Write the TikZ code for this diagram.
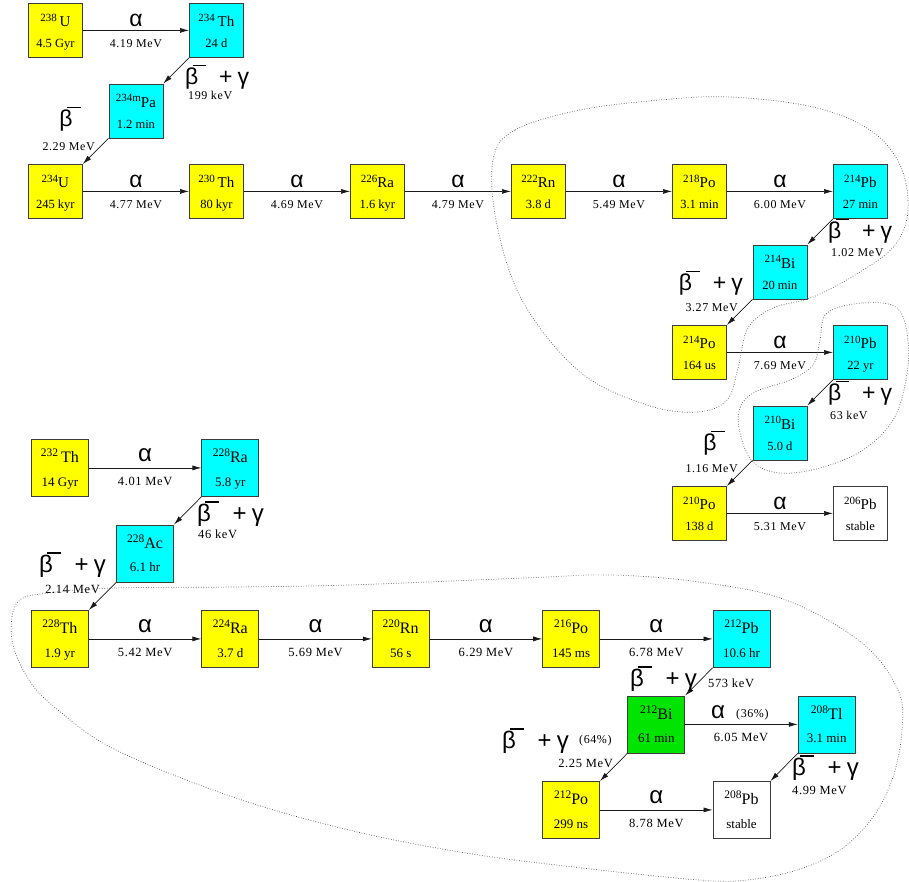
\documentclass[tikz,border=0pt]{standalone}
\usepackage{fontspec}
\setmainfont{Liberation Serif}
\newfontfamily\gk{Liberation Sans}
\usetikzlibrary{arrows.meta}
\definecolor{nyel}{RGB}{255,255,0}
\definecolor{ncyan}{RGB}{0,255,255}
\definecolor{ngreen}{RGB}{0,228,0}
\definecolor{nborder}{RGB}{60,60,60}
\definecolor{ncurve}{RGB}{80,80,80}
\newcommand{\nucU}[3]{{\fontsize{15}{21}\selectfont\raisebox{5.5pt}{\fontsize{11}{11}\selectfont #1}#2\rule{0pt}{17pt}}\\#3\rule[-3pt]{0pt}{3pt}}
\newcommand{\nucL}[3]{{\fontsize{16}{23.4}\selectfont\raisebox{6pt}{\fontsize{11.5}{11.5}\selectfont #1}#2\rule{0pt}{16pt}}\\#3\rule[-3pt]{0pt}{3pt}}
\newcommand{\bmin}{β\kern-0.25em\raisebox{0.8em}{\rule{0.6em}{0.07em}}}
\newcommand{\bgam}{\bmin\hspace{0.55em}+\hspace{0.22em}γ}
\tikzset{
 box/.style={draw=nborder, line width=0.8pt, inner sep=0pt, anchor=north west, align=center},
 ubox/.style={box, minimum width=54pt, minimum height=54pt, font=\fontsize{12.5}{21}\selectfont},
 lbox/.style={box, minimum width=57pt, minimum height=57pt, font=\fontsize{13}{23.4}\selectfont},
 arr/.style={-{Latex[length=9pt,width=5pt]}, line width=0.7pt, draw=black!90},
 en/.style={font=\fontsize{12}{12}\selectfont\addfontfeatures{LetterSpace=5}, inner sep=0pt},
 len/.style={font=\fontsize{12.5}{12.5}\selectfont\addfontfeatures{LetterSpace=5}, inner sep=0pt},
 pc/.style={font=\fontsize{12}{12}\selectfont\addfontfeatures{LetterSpace=5}, inner sep=0pt},
 gr/.style={font=\gk\fontsize{23}{23}\selectfont, inner sep=0pt},
 lgr/.style={font=\gk\fontsize{24}{24}\selectfont, inner sep=0pt},
 curve/.style={draw=ncurve, line width=0.7pt, dash pattern=on 0.7pt off 1.8pt},
}
\begin{document}
\begin{tikzpicture}[x=1pt,y=-1pt]
\useasboundingbox (0,0) rectangle (909,881);
% ---------- uranium series ----------
\node[ubox, fill=nyel]  (U238)  at (28,3)       {\nucU{238 }{U}{4.5 Gyr}};
\node[ubox, fill=ncyan] (Th234) at (189,3)      {\nucU{234 }{Th}{24 d}};
\node[ubox, fill=ncyan] (Pa234) at (108.5,83.5) {\nucU{234m}{Pa}{1.2 min}};
\node[ubox, fill=nyel]  (U234)  at (28,164)     {\nucU{234}{U}{245 kyr}};
\node[ubox, fill=nyel]  (Th230) at (189,164)    {\nucU{230 }{Th}{80 kyr}};
\node[ubox, fill=nyel]  (Ra226) at (350,164)    {\nucU{226}{Ra}{1.6 kyr}};
\node[ubox, fill=nyel]  (Rn222) at (511,164)    {\nucU{222}{Rn}{3.8 d}};
\node[ubox, fill=nyel]  (Po218) at (672,164)    {\nucU{218}{Po}{3.1 min}};
\node[ubox, fill=ncyan] (Pb214) at (833,164)    {\nucU{214}{Pb}{27 min}};
\node[ubox, fill=ncyan] (Bi214) at (752.5,244.5){\nucU{214}{Bi}{20 min}};
\node[ubox, fill=nyel]  (Po214) at (672,325)    {\nucU{214}{Po}{164 us}};
\node[ubox, fill=ncyan] (Pb210) at (833,325)    {\nucU{210}{Pb}{22 yr}};
\node[ubox, fill=ncyan] (Bi210) at (752.5,405.5){\nucU{210}{Bi}{5.0 d}};
\node[ubox, fill=nyel]  (Po210) at (672,486)    {\nucU{210}{Po}{138 d}};
\node[ubox, fill=white] (Pb206) at (833,486)    {\nucU{206}{Pb}{stable}};
% horizontal alpha decays
\foreach \a/\b/\e/\n in {U238/Th234/4.19/a1, U234/Th230/4.77/a2, Th230/Ra226/4.69/a3,
  Ra226/Rn222/4.79/a4, Rn222/Po218/5.49/a5, Po218/Pb214/6.00/a6, Po214/Pb210/7.69/a7,
  Po210/Pb206/5.31/a8}{
  \draw[arr] (\a.east) -- node[gr, yshift=10pt] (\n g) {α} node[en, yshift=-13pt] (\n e) {\e\ MeV} (\b.west);
}
% beta decays
\draw[arr] (Th234.south west) -- (Pa234.north east);
\node[gr, anchor=west] (b1g) at (185,77) {\bgam};
\node[en, anchor=west] (b1e) at (188,95) {199 keV};
\draw[arr] (Pa234.south west) -- (U234.north east);
\node[gr] (b2g) at (70,119) {\bmin};
\node[en, anchor=east] (b2e) at (95,147) {2.29 MeV};
\draw[arr] (Pb214.south west) -- (Bi214.north east);
\node[gr, anchor=west] (b3g) at (828,231) {\bgam};
\node[en, anchor=west] (b3e) at (831,253) {1.02 MeV};
\draw[arr] (Bi214.south west) -- (Po214.north east);
\node[gr, anchor=east] (b4g) at (743,283) {\bgam};
\node[en, anchor=east] (b4e) at (738,308) {3.27 MeV};
\draw[arr] (Pb210.south west) -- (Bi210.north east);
\node[gr, anchor=west] (b5g) at (828,393) {\bgam};
\node[en, anchor=west] (b5e) at (830,415) {63 keV};
\draw[arr] (Bi210.south west) -- (Po210.north east);
\node[gr] (b6g) at (714,443) {\bmin};
\node[en, anchor=east] (b6e) at (738,469) {1.16 MeV};
% ---------- thorium series ----------
\node[lbox, fill=nyel]   (Th232) at (31,439)       {\nucL{232 }{Th}{14 Gyr}};
\node[lbox, fill=ncyan]  (Ra228) at (201.4,439)    {\nucL{228}{Ra}{5.8 yr}};
\node[lbox, fill=ncyan]  (Ac228) at (116.2,524.5)  {\nucL{228}{Ac}{6.1 hr}};
\node[lbox, fill=nyel]   (Th228) at (31,610)       {\nucL{228}{Th}{1.9 yr}};
\node[lbox, fill=nyel]   (Ra224) at (201.4,610)    {\nucL{224}{Ra}{3.7 d}};
\node[lbox, fill=nyel]   (Rn220) at (371.8,610)    {\nucL{220}{Rn}{56 s}};
\node[lbox, fill=nyel]   (Po216) at (542.2,610)    {\nucL{216}{Po}{145 ms}};
\node[lbox, fill=ncyan]  (Pb212) at (712.6,610)    {\nucL{212}{Pb}{10.6 hr}};
\node[lbox, fill=ngreen] (Bi212) at (627.4,695.5)  {\nucL{212}{Bi}{61 min}};
\node[lbox, fill=ncyan]  (Tl208) at (797.8,695.5)  {\nucL{208}{Tl}{3.1 min}};
\node[lbox, fill=nyel]   (Po212) at (542.2,781)    {\nucL{212}{Po}{299 ns}};
\node[lbox, fill=white]  (Pb208) at (712.6,781)    {\nucL{208}{Pb}{stable}};
\foreach \a/\b/\e/\n in {Th232/Ra228/4.01/c1, Th228/Ra224/5.42/c2, Ra224/Rn220/5.69/c3,
  Rn220/Po216/6.29/c4, Po216/Pb212/6.78/c5, Po212/Pb208/8.78/c6}{
  \draw[arr] (\a.east) -- node[lgr, yshift=12.5pt] (\n g) {α} node[len, yshift=-13.5pt] (\n e) {\e\ MeV} (\b.west);
}
\draw[arr] (Bi212.east) -- (Tl208.west);
\node[lgr] (c7g) at (718,712) {α};
\node[pc, anchor=west] (c7p) at (736,715) {(36\%)};
\node[len] (c7e) at (741,737) {6.05 MeV};
\draw[arr] (Ra228.south west) -- (Ac228.north east);
\node[lgr, anchor=west] (d1g) at (197,514) {\bgam};
\node[len, anchor=west] (d1e) at (198,534) {46 keV};
\draw[arr] (Ac228.south west) -- (Th228.north east);
\node[lgr, anchor=east] (d2g) at (106,565) {\bgam};
\node[len, anchor=east] (d2e) at (100,589) {2.14 MeV};
\draw[arr] (Pb212.south west) -- (Bi212.north east);
\node[lgr, anchor=east] (d3g) at (697,679) {\bgam};
\node[len, anchor=west] (d3e) at (708,683) {573 keV};
\draw[arr] (Bi212.south west) -- (Po212.north east);
\node[lgr, anchor=west] (d4g) at (502,741) {\bgam};
\node[pc, anchor=west] (d4p) at (579,741) {(64\%)};
\node[len, anchor=east] (d4e) at (613,763) {2.25 MeV};
\draw[arr] (Tl208.south west) -- (Pb208.north east);
\node[lgr, anchor=west] (d5g) at (792,768) {\bgam};
\node[len, anchor=west] (d5e) at (792,790) {4.99 MeV};
% ---------- dotted groupings ----------
\begin{scope}
\clip (0,0) rectangle (909,881);
\draw[curve] plot[smooth cycle, tension=0.6] coordinates {
 (493,160) (515,130) (580,110) (660,100) (730,97) (813,107) (870,130) (900,165)
 (908,210) (895,245) (860,272) (813,297) (773,308) (748,328) (738,368) (727,400)
 (697,412) (647,405) (580,372) (523,302) (497,225)};
\draw[curve] plot[smooth cycle, tension=0.6] coordinates {
 (827,313) (863,303) (897,308) (908,340) (906,380) (893,420) (863,450) (820,468)
 (780,473) (753,462) (740,433) (740,408) (755,392) (790,380) (813,365) (820,340)};
\draw[curve] plot[smooth cycle, tension=0.6] coordinates {
 (47,593) (116,588) (233,587) (349,585) (524,578) (611,575) (699,582) (786,600)
 (862,643) (898,690) (902,730) (893,777) (873,817) (840,850) (797,870) (747,880)
 (699,880) (582,868) (466,853) (349,830) (233,797) (116,750) (58,710) (29,680)
 (12,640) (17,603)};
\end{scope}
\end{tikzpicture}
\end{document}
